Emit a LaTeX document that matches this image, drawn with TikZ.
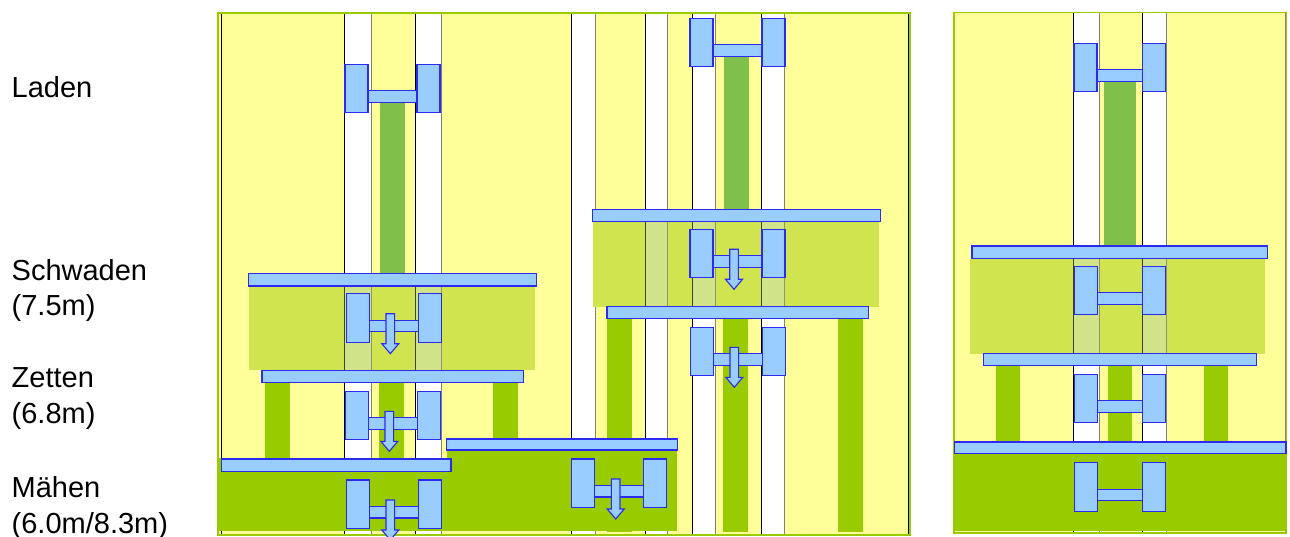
\documentclass[tikz,border=0pt]{standalone}
\usepackage{fontspec}
\setmainfont{Liberation Sans}
\usepackage{tikz,xifthen}
\usetikzlibrary{positioning}

\definecolor{fieldyellow}{HTML}{FFFF99}
\definecolor{cropgreen}{HTML}{99CC00}
\definecolor{swathgreen}{HTML}{CFE44F}
\definecolor{palelane}{HTML}{D0E388}
\definecolor{loadgreen}{HTML}{80BF4A}
\definecolor{machblue}{HTML}{99CCFF}
\definecolor{edgeblue}{HTML}{2B2BF0}

\tikzset{
  machine/.style={fill=machblue,draw=edgeblue,line width=1.1pt},
  fieldedge/.style={draw=cropgreen,line width=1.5pt},
  label/.style={anchor=base west,align=left,inner sep=0pt,font=\fontsize{29}{35.5}\selectfont},
}

% tractor: left x, top y, width, arrow yes/no
\newcommand{\tractor}[4]{%
  \pgfmathsetmacro\tcx{#1+#3/2-3.5}
  \draw[machine] (#1+23,#2+26.5) rectangle (#1+#3-23,#2+38);
  \draw[machine] (#1,#2) rectangle ++(23,48.5);
  \draw[machine] (#1+#3-23,#2) rectangle ++(23,48.5);
  \ifthenelse{\equal{#4}{yes}}{%
    \draw[machine] (\tcx-4.3,#2+20) -- (\tcx+4.3,#2+20) -- (\tcx+4.3,#2+50)
      -- (\tcx+8.5,#2+50) -- (\tcx,#2+60) -- (\tcx-8.5,#2+50)
      -- (\tcx-4.3,#2+50) -- cycle;}{}%
}

\begin{document}
\begin{tikzpicture}[x=1pt,y=-1pt]
  \useasboundingbox (0,0) rectangle (1290,537);

  % labels
  \node[label] (laden) at (11.5,98) {Laden};
  \node[label] (schwaden) at (11.5,316) {Schwaden\\(7.5m)};
  \node[label] (zetten) at (11.5,423.3) {Zetten\\(6.8m)};
  \node[label] (maehen) at (11.5,533.3) {Mähen\\(6.0m/8.3m)};

  % fields
  \fill[fieldyellow] (218,13) rectangle (910,535);
  \fill[fieldyellow] (954,12.7) rectangle (1286.5,533);
  \foreach \a/\b in {344.3/370.7,415.3/440.7,571/594.7,645/666.7,691.7/715.3,760.7/784.3} {
    \fill[white] (\a,13) rectangle (\b,535);
    \draw[black] (\a,13) -- (\a,535);
    \draw[gray] (\b,13) -- (\b,535);
  }
  \foreach \a/\b in {1073.3/1098.7,1141.7/1166} {
    \fill[white] (\a,12.7) rectangle (\b,533);
    \draw[black] (\a,12.7) -- (\a,533);
    \draw[gray] (\b,12.7) -- (\b,533);
  }
  \draw[black] (221,13) -- (221,535);
  \draw[black] (908,13) -- (908,535);
  \draw[gray] (1285,12.7) -- (1285,533);
  \draw[fieldedge] (218,13) rectangle (910,535);
  \draw[fieldedge] (954,12.7) rectangle (1286.5,533);

  % loaded swaths
  \fill[loadgreen] (380,103) rectangle (405,273.3);
  \fill[loadgreen] (724,56) rectangle (749,209.3);
  \fill[loadgreen] (1104,81) rectangle (1136,246);

  % tedded strips
  \foreach \a in {265,379,493} \fill[cropgreen] (\a,382) rectangle ++(25,76);
  \foreach \a in {607,723,838} \fill[cropgreen] (\a,318) rectangle ++(25,213.7);
  \foreach \a in {996,1108,1204} \fill[cropgreen] (\a,365) rectangle ++(24,77);

  % raking areas
  \fill[swathgreen] (248.7,286) rectangle (535,369.7);
  \fill[swathgreen] (593.3,221) rectangle (879,306.7);
  \fill[swathgreen] (970,258.7) rectangle (1265,353.7);
  \foreach \a/\b/\t/\u in {344.3/370.7/286/369.7,415.3/440.7/286/369.7,
      645/666.7/221/306.7,691.7/715.3/221/306.7,760.7/784.3/221/306.7,
      1073.3/1098.7/258.7/353.7,1141.7/1166/258.7/353.7} {
    \fill[palelane] (\a,\t) rectangle (\b,\u);
    \draw[black!70!swathgreen] (\a,\t) -- (\a,\u);
    \draw[gray!80!swathgreen] (\b,\t) -- (\b,\u);
  }

  % mowing areas
  \fill[cropgreen] (216.7,458) rectangle (447,530.7);
  \fill[cropgreen] (447,450) rectangle (676.7,530.7);
  \fill[cropgreen] (954,453) rectangle (1286.5,531);

  % implements
  \draw[machine] (248.7,273.3) rectangle (536.7,286);
  \draw[machine] (262,370.3) rectangle (523.3,382.3);
  \draw[machine] (221.3,459) rectangle (451,471.3);
  \draw[machine] (446.7,439) rectangle (677.3,450);
  \draw[machine] (592.7,209.3) rectangle (880.7,221.3);
  \draw[machine] (607,306.3) rectangle (868.3,318.3);
  \draw[machine] (972,246) rectangle (1267.7,258.7);
  \draw[machine] (983.7,353.3) rectangle (1256.7,365.3);
  \draw[machine] (954.3,442) rectangle (1286,453.3);

  % tractors
  \tractor{345}{64.3}{95}{no}
  \tractor{346.3}{293.7}{95}{yes}
  \tractor{345.3}{391.3}{95}{yes}
  \tractor{346.3}{480}{95}{yes}
  \tractor{690}{18.3}{95}{no}
  \tractor{690}{229.3}{95}{yes}
  \tractor{690.3}{327.3}{95}{yes}
  \tractor{571.7}{459}{95}{yes}
  \tractor{1074}{43.3}{91.3}{no}
  \tractor{1074.3}{266.3}{91}{no}
  \tractor{1074.3}{374.3}{91}{no}
  \tractor{1074.3}{462.7}{91}{no}
\end{tikzpicture}
\end{document}
